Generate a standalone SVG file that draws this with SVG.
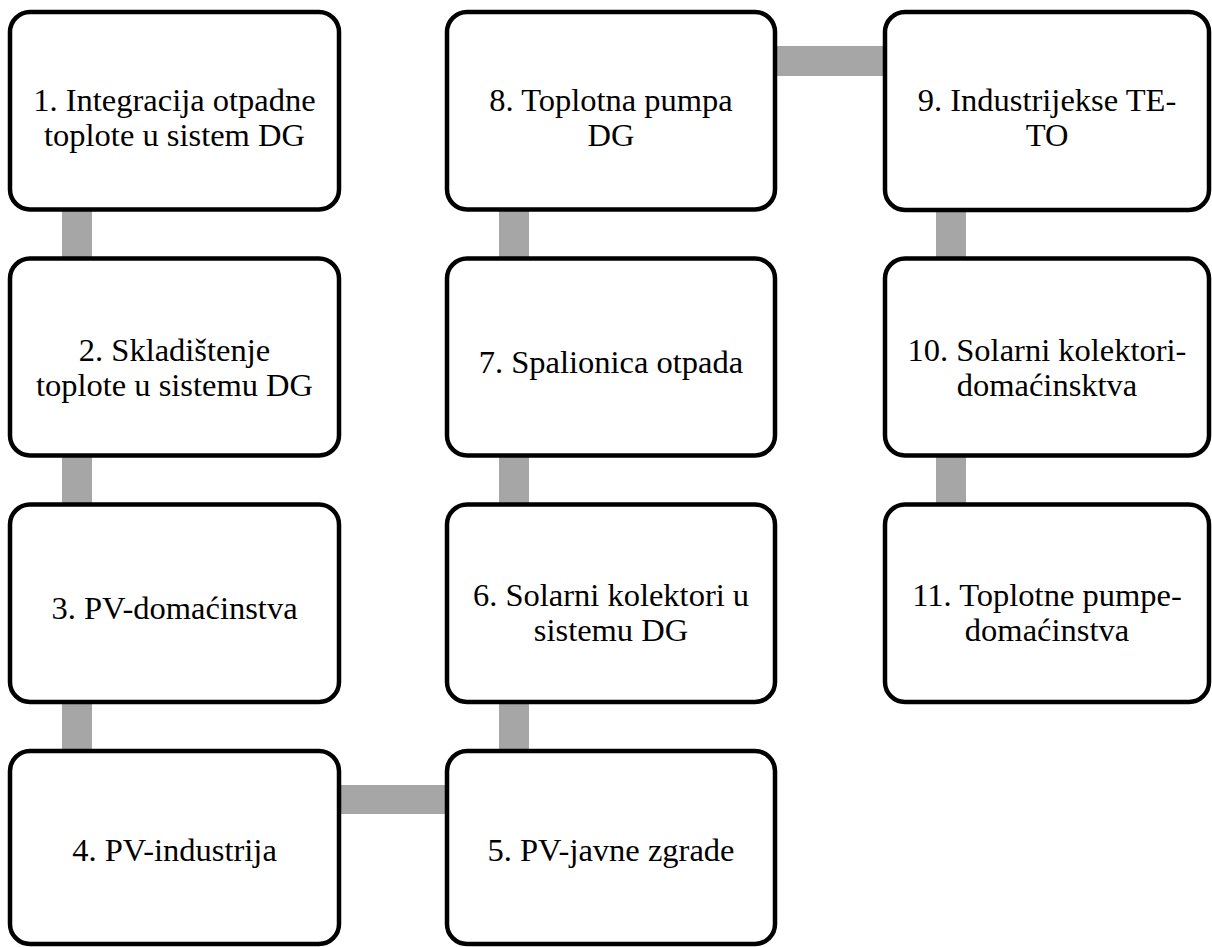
<svg xmlns="http://www.w3.org/2000/svg" width="1212" height="947" viewBox="0 0 1212 947">
<style>
.box{fill:#fff;stroke:#000;stroke-width:4.5}
.lbl{font-family:"Liberation Serif","Times New Roman",serif;font-size:32.5px;fill:#000;text-anchor:middle}
.con{fill:#a6a6a6}
</style>
<rect width="1212" height="947" fill="#fff"/>
<g id="connectors">
<rect class="con" x="62" y="209" width="30" height="50"/>
<rect class="con" x="62" y="455" width="30" height="50"/>
<rect class="con" x="62" y="702" width="30" height="50"/>
<rect class="con" x="339" y="785" width="108" height="29"/>
<rect class="con" x="499" y="455" width="30" height="50"/>
<rect class="con" x="499" y="702" width="30" height="50"/>
<rect class="con" x="499" y="209" width="30" height="50"/>
<rect class="con" x="775" y="46" width="110" height="30"/>
<rect class="con" x="936" y="209" width="30" height="50"/>
<rect class="con" x="936" y="455" width="30" height="50"/>
</g>
<g id="n1"><rect class="box" x="10" y="12" width="329" height="197.5" rx="20"/><text class="lbl" x="174.5" y="111">1. Integracija otpadne</text><text class="lbl" x="174.5" y="146">toplote u sistem DG</text></g>
<g id="n2"><rect class="box" x="10" y="258.5" width="329" height="197" rx="20"/><text class="lbl" x="174.5" y="361">2. Skladištenje</text><text class="lbl" x="174.5" y="396">toplote u sistemu DG</text></g>
<g id="n3"><rect class="box" x="10" y="504.5" width="329" height="197.5" rx="20"/><text class="lbl" x="174.5" y="619">3. PV-domaćinstva</text></g>
<g id="n4"><rect class="box" x="10" y="751" width="329" height="193" rx="20"/><text class="lbl" x="174.5" y="861">4. PV-industrija</text></g>
<g id="n5"><rect class="box" x="447" y="751" width="328" height="193" rx="20"/><text class="lbl" x="611" y="861">5. PV-javne zgrade</text></g>
<g id="n6"><rect class="box" x="447" y="504.5" width="328" height="197.5" rx="20"/><text class="lbl" x="611" y="606">6. Solarni kolektori u</text><text class="lbl" x="611" y="641">sistemu DG</text></g>
<g id="n7"><rect class="box" x="447" y="258.5" width="328" height="197" rx="20"/><text class="lbl" x="611" y="373">7. Spalionica otpada</text></g>
<g id="n8"><rect class="box" x="447" y="12" width="328" height="197.5" rx="20"/><text class="lbl" x="611" y="111">8. Toplotna pumpa</text><text class="lbl" x="611" y="146">DG</text></g>
<g id="n9"><rect class="box" x="885" y="12" width="324" height="198" rx="20"/><text class="lbl" x="1047" y="111">9. Industrijekse TE-</text><text class="lbl" x="1047" y="146">TO</text></g>
<g id="n10"><rect class="box" x="885" y="258.5" width="324" height="197" rx="20"/><text class="lbl" x="1047" y="361">10. Solarni kolektori-</text><text class="lbl" x="1047" y="396">domaćinsktva</text></g>
<g id="n11"><rect class="box" x="885" y="504.5" width="324" height="197.5" rx="20"/><text class="lbl" x="1047" y="606">11. Toplotne pumpe-</text><text class="lbl" x="1047" y="641">domaćinstva</text></g>
</svg>
